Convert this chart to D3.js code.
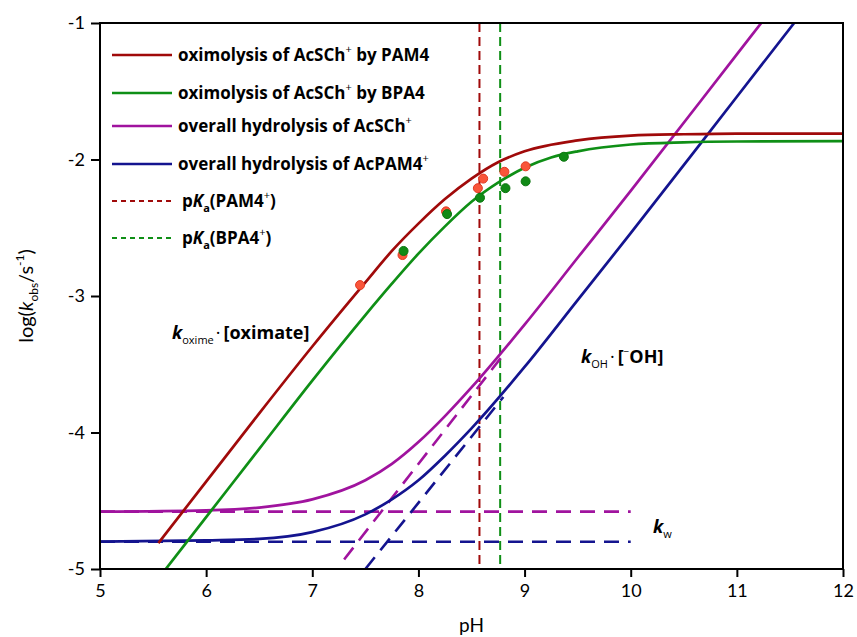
<!DOCTYPE html>
<html>
<head>
<meta charset="utf-8">
<script src="https://cdn.jsdelivr.net/npm/d3@7"></script>
<style>
  body { margin: 0; background: #fff; }
  text { font-family: Lato, "Open Sans", sans-serif; fill: #000; }
</style>
</head>
<body>
<div id="chart"></div>
<script>
var svgWidth = 857;
var svgHeight = 637;
var margin = { top: 23, right: 14, bottom: 68, left: 100 };
var width = svgWidth - margin.left - margin.right;
var height = svgHeight - margin.top - margin.bottom;

// pH ticks and log k ticks
var xTicks = [5, 6, 7, 8, 9, 10, 11, 12];
var yTicks = [-5, -4, -3, -2, -1];

// fitted curves: [pH, log k]
var pam4Curve = [[5.55, -4.81], [6.0, -4.36], [6.5, -3.86], [7.0, -3.37], [7.5, -2.90], [7.75, -2.67],
  [8.0, -2.47], [8.25, -2.29], [8.5, -2.14], [8.75, -2.02], [9.0, -1.94], [9.5, -1.86], [10.0, -1.825],
  [10.5, -1.815], [11.0, -1.81], [12.0, -1.81]];
var bpa4Curve = [[5.6, -5.02], [6.0, -4.62], [6.5, -4.12], [7.0, -3.62], [7.5, -3.14], [7.75, -2.91],
  [8.0, -2.69], [8.25, -2.49], [8.5, -2.31], [8.75, -2.17], [9.0, -2.06], [9.25, -1.985], [9.5, -1.94],
  [10.0, -1.89], [10.5, -1.874], [11.0, -1.868], [12.0, -1.866]];
var achHydrolysis = [[5.0, -4.58], [6.0, -4.57], [6.5, -4.55], [7.0, -4.49], [7.5, -4.35], [7.75, -4.23],
  [8.0, -4.07], [8.25, -3.88], [8.5, -3.67], [9.0, -3.21], [9.5, -2.72], [10.0, -2.23], [11.0, -1.23], [11.23, -1.0]];
var acpam4Hydrolysis = [[5.0, -4.80], [6.0, -4.79], [6.5, -4.78], [7.0, -4.73], [7.5, -4.60], [7.75, -4.49],
  [8.0, -4.35], [8.25, -4.17], [8.5, -3.97], [9.0, -3.52], [9.5, -3.03], [10.0, -2.54], [11.0, -1.54], [11.54, -1.0]];

// asymptotes (dashed)
var achKw = [[5.0, -4.58], [10.0, -4.58]];
var acpam4Kw = [[5.0, -4.80], [10.0, -4.80]];
var achKoh = [[7.30, -4.93], [8.8, -3.43]];
var acpam4Koh = [[7.50, -5.0], [8.8, -3.74]];

// pKa values
var pKaPAM4 = 8.575;
var pKaBPA4 = 8.77;

// measured points
var pam4Points = [[7.45, -2.92], [7.85, -2.70], [8.26, -2.38], [8.56, -2.21], [8.61, -2.14], [8.81, -2.09], [9.01, -2.05]];
var bpa4Points = [[7.86, -2.67], [8.27, -2.40], [8.58, -2.28], [8.82, -2.21], [9.01, -2.16], [9.37, -1.98]];

var colors = { red: "#a00a0a", green: "#0f8f16", purple: "#a0139e", blue: "#14148f" };

var svg = d3.select("#chart")
  .append("svg")
  .attr("width", svgWidth)
  .attr("height", svgHeight);

var chartGroup = svg.append("g")
  .attr("transform", `translate(${margin.left}, ${margin.top})`);

var xScale = d3.scaleLinear().domain([5, 12]).range([0, width]);
var yScale = d3.scaleLinear().domain([-5, -1]).range([height, 0]);

chartGroup.append("clipPath")
  .attr("id", "clip")
  .append("rect")
  .attr("width", width)
  .attr("height", height);

var plot = chartGroup.append("g").attr("clip-path", "url(#clip)");

var line = d3.line()
  .x(d => xScale(d[0]))
  .y(d => yScale(d[1]))
  .curve(d3.curveMonotoneX);

// vertical pKa lines
[[pKaPAM4, colors.red], [pKaBPA4, colors.green]].forEach(function (p) {
  plot.append("line")
    .attr("x1", xScale(p[0])).attr("x2", xScale(p[0]))
    .attr("y1", yScale(-1)).attr("y2", yScale(-5))
    .attr("stroke", p[1])
    .attr("stroke-width", 2)
    .attr("stroke-dasharray", "9,5");
});

// dashed asymptotes
[[achKw, colors.purple], [acpam4Kw, colors.blue], [achKoh, colors.purple], [acpam4Koh, colors.blue]].forEach(function (s) {
  plot.append("path")
    .attr("d", line(s[0]))
    .attr("fill", "none")
    .attr("stroke", s[1])
    .attr("stroke-width", 2.6)
    .attr("stroke-dasharray", "15,9");
});

// solid curves
[[achHydrolysis, colors.purple], [acpam4Hydrolysis, colors.blue], [pam4Curve, colors.red], [bpa4Curve, colors.green]].forEach(function (s) {
  plot.append("path")
    .attr("d", line(s[0]))
    .attr("fill", "none")
    .attr("stroke", s[1])
    .attr("stroke-width", 2.7);
});

// points
plot.selectAll(".pam4pt")
  .data(pam4Points)
  .enter()
  .append("circle")
  .attr("cx", d => xScale(d[0]))
  .attr("cy", d => yScale(d[1]))
  .attr("r", 4.5)
  .attr("fill", "#f9553a")
  .attr("stroke", "#e23a22")
  .attr("stroke-width", 1);

plot.selectAll(".bpa4pt")
  .data(bpa4Points)
  .enter()
  .append("circle")
  .attr("cx", d => xScale(d[0]))
  .attr("cy", d => yScale(d[1]))
  .attr("r", 4.5)
  .attr("fill", "#108a16")
  .attr("stroke", "#0c7610")
  .attr("stroke-width", 1);

// axes
var bottomAxis = d3.axisBottom(xScale).tickValues(xTicks).tickSize(8).tickSizeOuter(0).tickPadding(7)
  .tickFormat(d3.format("d"));
var leftAxis = d3.axisLeft(yScale).tickValues(yTicks).tickSize(9).tickSizeOuter(0).tickPadding(6)
  .tickFormat(d3.format("d"));

var gx = chartGroup.append("g")
  .attr("transform", `translate(0, ${height})`)
  .call(bottomAxis);
var gy = chartGroup.append("g")
  .call(leftAxis);

[gx, gy].forEach(function (g) {
  g.select(".domain").remove();
  g.selectAll(".tick line").attr("stroke", "#000").attr("stroke-width", 2);
  g.selectAll(".tick text")
    .attr("font-family", "Lato, sans-serif")
    .attr("font-size", 18)
    .attr("fill", "#000");
});
gy.selectAll(".tick text").text(d => d3.format("d")(d).replace("−", "-"));

// frame
chartGroup.append("rect")
  .attr("width", width)
  .attr("height", height)
  .attr("fill", "none")
  .attr("stroke", "#000")
  .attr("stroke-width", 2);

// legend
var legend = chartGroup.append("g");
var legendRows = [
  { y: 32, color: colors.red, dash: null, parts: [["oximolysis of AcSCh", 0], ["+", 1], [" by PAM4", -1]] },
  { y: 70, color: colors.green, dash: null, parts: [["oximolysis of AcSCh", 0], ["+", 1], [" by BPA4", -1]] },
  { y: 103, color: colors.purple, dash: null, parts: [["overall hydrolysis of AcSCh", 0], ["+", 1]] },
  { y: 141, color: colors.blue, dash: null, parts: [["overall hydrolysis of AcPAM4", 0], ["+", 1]] },
  { y: 178, color: colors.red, dash: "5,4", pka: "PAM4" },
  { y: 215, color: colors.green, dash: "5,4", pka: "BPA4" }
];

legendRows.forEach(function (r) {
  legend.append("line")
    .attr("x1", 12).attr("x2", 72)
    .attr("y1", r.y).attr("y2", r.y)
    .attr("stroke", r.color)
    .attr("stroke-width", r.dash ? 1.8 : 2.7)
    .attr("stroke-dasharray", r.dash);
  var t = legend.append("text")
    .attr("x", r.dash ? 82 : 78)
    .attr("y", r.y + 6)
    .attr("font-family", "Open Sans, sans-serif")
    .attr("font-size", 17)
    .attr("font-weight", 700)
    .style("font-family", "'Open Sans', sans-serif")
    .style("font-size", "17px");
  if (r.pka) {
    t.append("tspan").text("p");
    t.append("tspan").style("font-style", "italic").text("K");
    t.append("tspan").attr("dy", 5).style("font-size", "11px").text("a");
    t.append("tspan").attr("dy", -5).text("(" + r.pka);
    t.append("tspan").attr("dy", -8).style("font-size", "11px").style("font-weight", "normal").text("+");
    t.append("tspan").attr("dy", 8).text(")");
  } else {
    r.parts.forEach(function (p) {
      var s = t.append("tspan").text(p[0]);
      if (p[1] === 1) s.attr("dy", -8).style("font-size", "11px").style("font-weight", "normal");
      if (p[1] === -1) s.attr("dy", 8);
    });
  }
});

// annotations
function kLabel(x, y, sub, rest) {
  var t = chartGroup.append("text")
    .attr("x", x).attr("y", y)
    .style("font-family", "'Open Sans', sans-serif")
    .style("font-size", "18px").style("font-weight", "bold");
  t.append("tspan").style("font-style", "italic").text("k");
  t.append("tspan").attr("dy", 5).style("font-size", "11px").style("font-weight", "normal").text(sub);
  if (rest) rest(t);
  return t;
}

kLabel(72, 316, "oxime", function (t) {
  t.append("tspan").attr("dy", -5).attr("dx", 2).style("font-weight", "normal").text("·");
  t.append("tspan").attr("dx", 3).text("[oximate]");
});
kLabel(481, 340, "OH", function (t) {
  t.append("tspan").attr("dy", -5).attr("dx", 2).style("font-weight", "normal").text("·");
  t.append("tspan").attr("dx", 3).text("[");
  t.append("tspan").attr("dy", -8).style("font-size", "10px").style("font-weight", "normal").text("−");
  t.append("tspan").attr("dy", 8).text("OH]");
});
kLabel(553, 510, "w");

// axis titles
chartGroup.append("text")
  .attr("x", width / 2)
  .attr("y", height + 63)
  .attr("text-anchor", "middle")
  .style("font-size", "19px")
  .text("pH");

var ylab = chartGroup.append("text")
  .attr("transform", `translate(${-67}, ${height / 2}) rotate(-90)`)
  .attr("text-anchor", "middle")
  .style("font-size", "20px");
ylab.append("tspan").text("log(");
ylab.append("tspan").style("font-style", "italic").text("k");
ylab.append("tspan").attr("dy", 5).style("font-size", "12px").text("obs");
ylab.append("tspan").attr("dy", -5).text("/s");
ylab.append("tspan").attr("dy", -9).style("font-size", "12px").text("-1");
ylab.append("tspan").attr("dy", 9).text(")");
</script>
</body>
</html>
